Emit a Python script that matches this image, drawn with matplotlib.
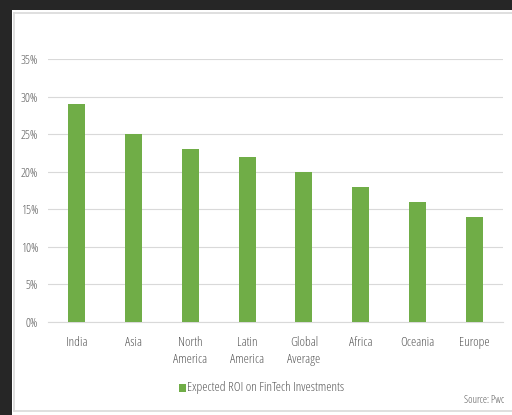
import matplotlib
matplotlib.use("Agg")
import matplotlib.pyplot as plt
from matplotlib.patches import Rectangle
from matplotlib.lines import Line2D

categories = ["India", "Asia", "North\nAmerica", "Latin\nAmerica", "Global\nAverage", "Africa", "Oceania", "Europe"]
roi = [29, 25, 23, 22, 20, 18, 16, 14]
yticks = [0, 5, 10, 15, 20, 25, 30, 35]
series_name = "Expected ROI on FinTech Investments"
source = "Source: Pwc"

W, H = 512, 415
plt.rcParams['font.family'] = ['Open Sans', 'DejaVu Sans']
plt.rcParams['font.stretch'] = 'condensed'
fig = plt.figure(figsize=(W/100, H/100), dpi=100, facecolor="#262626")

def fx(px): return px / W
def fy(py): return 1 - py / H

# white canvas
fig.patches.append(Rectangle((fx(12), 0), 1 - fx(12), fy(10), transform=fig.transFigure,
                             facecolor="white", edgecolor="none", zorder=-10))
# light border lines
fig.lines.append(Line2D([fx(14), 1], [fy(13), fy(13)], transform=fig.transFigure, color="#d9d9d9", lw=1.2, zorder=-5))
fig.lines.append(Line2D([fx(14), fx(14)], [fy(411), fy(13)], transform=fig.transFigure, color="#d9d9d9", lw=1.2, zorder=-5))
fig.lines.append(Line2D([fx(14), 1], [fy(411), fy(411)], transform=fig.transFigure, color="#d9d9d9", lw=1.2, zorder=-5))

ax = fig.add_axes([fx(48), fy(322), fx(503) - fx(48), fy(59) - fy(322)])
ax.set_zorder(5)
ax.set_facecolor("none")
x = range(len(categories))
ax.bar(x, roi, width=0.3, color="#70AD47", zorder=3)
ax.set_xlim(-0.5, len(categories) - 0.5)
ax.set_ylim(0, 35)
ax.set_yticks(yticks)
ax.set_yticklabels([f"{v}%" for v in yticks], fontsize=9, color="#595959")
ax.set_xticks(list(x))
ax.set_xticklabels(categories, fontsize=9.5, color="#595959", linespacing=1.4, va="top")
ax.tick_params(length=0)
ax.tick_params(axis="y", pad=7)
ax.tick_params(axis="x", pad=10)
ax.grid(axis="y", color="#d9d9d9", lw=0.8, zorder=0)
for s in ["top", "right", "left"]:
    ax.spines[s].set_visible(False)
ax.spines["bottom"].set_color("#d9d9d9")
ax.spines["bottom"].set_linewidth(0.8)

# legend
fig.patches.append(Rectangle((fx(179), fy(392)), fx(7), fy(384) - fy(392), transform=fig.transFigure,
                             facecolor="#70AD47", edgecolor="none", zorder=2))
fig.text(fx(187), fy(387), series_name, fontsize=9.5, color="#595959", va="center", ha="left")
fig.text(fx(504), fy(400), source, fontsize=7.5, color="#595959", va="center", ha="right")

fig.savefig("out.png", dpi=100, facecolor=fig.get_facecolor())
